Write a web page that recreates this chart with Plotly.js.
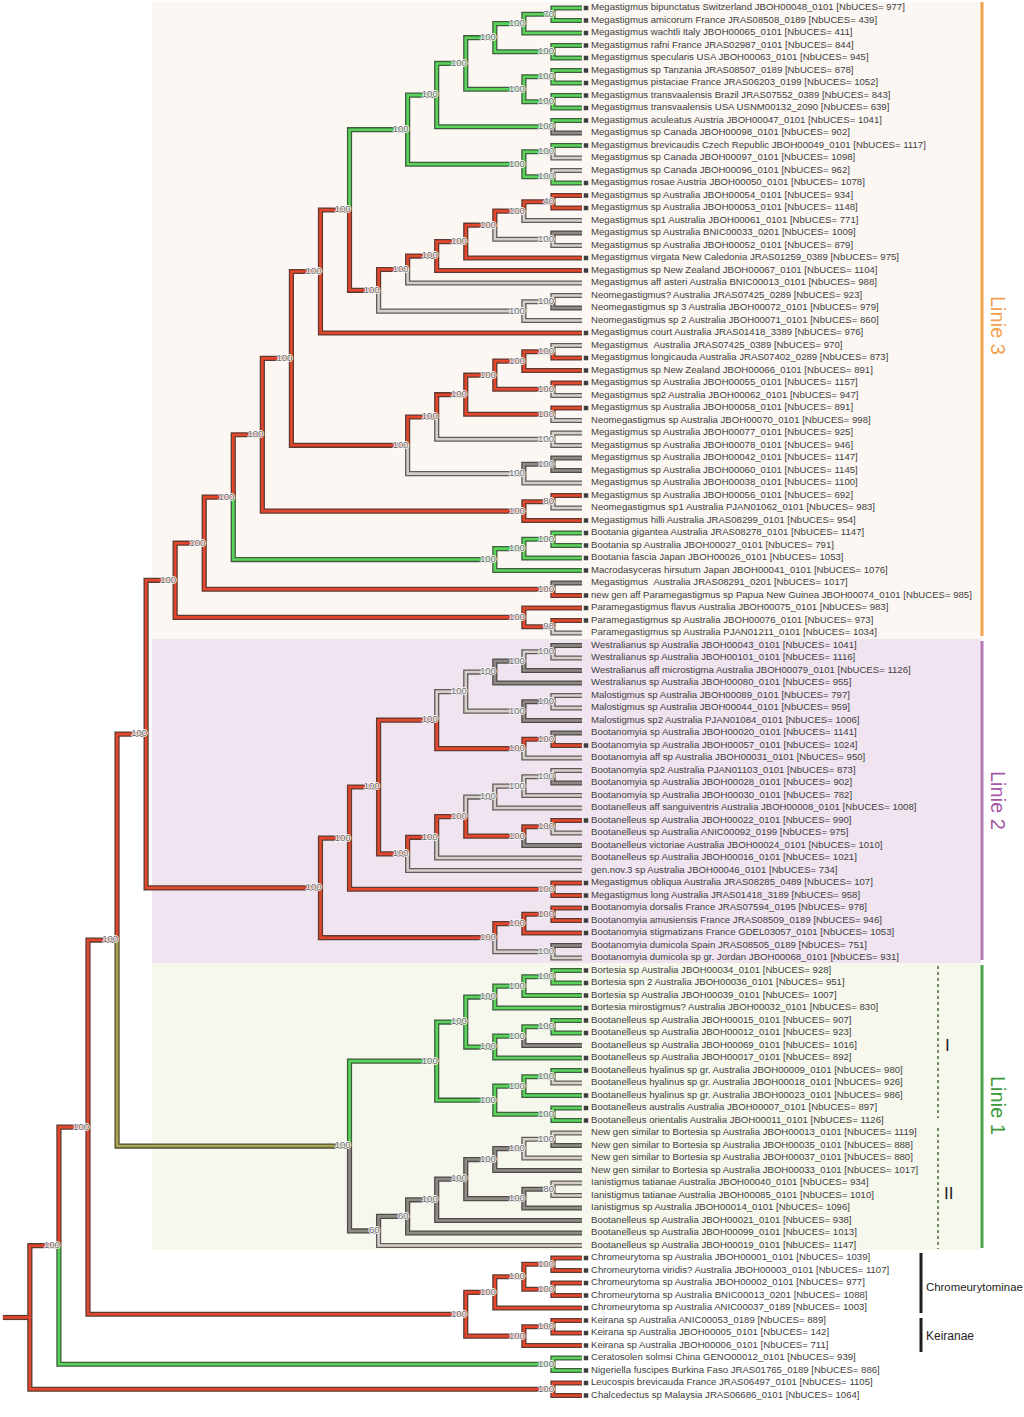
<!DOCTYPE html>
<html><head><meta charset="utf-8">
<script src="https://cdn.plot.ly/plotly-3.0.1.min.js"></script>
<style>html,body{margin:0;padding:0;background:#fff;overflow:hidden}#chart{width:1024px;height:1417px}</style>
</head><body><div id="chart"></div>
<script>
// ---------------- DATA ----------------
const leafNames = [
"Megastigmus bipunctatus Switzerland JBOH00048_0101","Megastigmus amicorum France JRAS08508_0189","Megastigmus wachtli Italy JBOH00065_0101",
"Megastigmus rafni France JRAS02987_0101","Megastigmus specularis USA JBOH00063_0101","Megastigmus sp Tanzania JRAS08507_0189",
"Megastigmus pistaciae France JRAS06203_0199","Megastigmus transvaalensis Brazil JRAS07552_0389","Megastigmus transvaalensis USA USNM00132_2090",
"Megastigmus aculeatus Austria JBOH00047_0101","Megastigmus sp Canada JBOH00098_0101","Megastigmus brevicaudis Czech Republic JBOH00049_0101",
"Megastigmus sp Canada JBOH00097_0101","Megastigmus sp Canada JBOH00096_0101","Megastigmus rosae Austria JBOH00050_0101",
"Megastigmus sp Australia JBOH00054_0101","Megastigmus sp Australia JBOH00053_0101","Megastigmus sp1 Australia JBOH00061_0101",
"Megastigmus sp Australia BNIC00033_0201","Megastigmus sp Australia JBOH00052_0101","Megastigmus virgata New Caledonia JRAS01259_0389",
"Megastigmus sp New Zealand JBOH00067_0101","Megastigmus aff asteri Australia BNIC00013_0101","Neomegastigmus? Australia JRAS07425_0289",
"Neomegastigmus sp 3 Australia JBOH00072_0101","Neomegastigmus sp 2 Australia JBOH00071_0101","Megastigmus court Australia JRAS01418_3389",
"Megastigmus \u00a0Australia JRAS07425_0389","Megastigmus longicauda Australia JRAS07402_0289","Megastigmus sp New Zealand JBOH00066_0101",
"Megastigmus sp Australia JBOH00055_0101","Megastigmus sp2 Australia JBOH00062_0101","Megastigmus sp Australia JBOH00058_0101",
"Neomegastigmus sp Australia JBOH00070_0101","Megastigmus sp Australia JBOH00077_0101","Megastigmus sp Australia JBOH00078_0101",
"Megastigmus sp Australia JBOH00042_0101","Megastigmus sp Australia JBOH00060_0101","Megastigmus sp Australia JBOH00038_0101",
"Megastigmus sp Australia JBOH00056_0101","Neomegastigmus sp1 Australia PJAN01062_0101","Megastigmus hilli Australia JRAS08299_0101",
"Bootania gigantea Australia JRAS08278_0101","Bootania sp Australia JBOH00027_0101","Bootania fascia Japan JBOH00026_0101",
"Macrodasyceras hirsutum Japan JBOH00041_0101","Megastigmus \u00a0Australia JRAS08291_0201","new gen aff Paramegastigmus sp Papua New Guinea JBOH00074_0101",
"Paramegastigmus flavus Australia JBOH00075_0101","Paramegastigmus sp Australia JBOH00076_0101","Paramegastigmus sp Australia PJAN01211_0101",
"Westralianus sp Australia JBOH00043_0101","Westralianus sp Australia JBOH00101_0101","Westralianus aff microstigma Australia JBOH00079_0101",
"Westralianus sp Australia JBOH00080_0101","Malostigmus sp Australia JBOH00089_0101","Malostigmus sp Australia JBOH00044_0101",
"Malostigmus sp2 Australia PJAN01084_0101","Bootanomyia sp Australia JBOH00020_0101","Bootanomyia sp Australia JBOH00057_0101",
"Bootanomyia aff sp Australia JBOH00031_0101","Bootanomyia sp2 Australia PJAN01103_0101","Bootanomyia sp Australia JBOH00028_0101",
"Bootanomyia sp Australia JBOH00030_0101","Bootanelleus aff sanguiventris Australia JBOH00008_0101","Bootanelleus sp Australia JBOH00022_0101",
"Bootanelleus sp Australia ANIC00092_0199","Bootanelleus victoriae Australia JBOH00024_0101","Bootanelleus sp Australia JBOH00016_0101",
"gen.nov.3 sp Australia JBOH00046_0101","Megastigmus obliqua Australia JRAS08285_0489","Megastigmus long Australia JRAS01418_3189",
"Bootanomyia dorsalis France JRAS07594_0195","Bootanomyia amusiensis France JRAS08509_0189","Bootanomyia stigmatizans France GDEL03057_0101",
"Bootanomyia dumicola Spain JRAS08505_0189","Bootanomyia dumicola sp gr. Jordan JBOH00068_0101",
"Bortesia sp Australia JBOH00034_0101","Bortesia spn 2 Australia JBOH00036_0101","Bortesia sp Australia JBOH00039_0101",
"Bortesia mirostigmus? Australia JBOH00032_0101","Bootanelleus sp Australia JBOH00015_0101","Bootanelleus sp Australia JBOH00012_0101",
"Bootanelleus sp Australia JBOH00069_0101","Bootanelleus sp Australia JBOH00017_0101","Bootanelleus hyalinus sp gr. Australia JBOH00009_0101",
"Bootanelleus hyalinus sp gr. Australia JBOH00018_0101","Bootanelleus hyalinus sp gr. Australia JBOH00023_0101","Bootanelleus australis Australia JBOH00007_0101",
"Bootanelleus orientalis Australia JBOH00011_0101","New gen similar to Bortesia sp Australia JBOH00013_0101","New gen similar to Bortesia sp Australia JBOH00035_0101",
"New gen similar to Bortesia sp Australia JBOH00037_0101","New gen similar to Bortesia sp Australia JBOH00033_0101","Ianistigmus tatianae Australia JBOH00040_0101",
"Ianistigmus tatianae Australia JBOH00085_0101","Ianistigmus sp Australia JBOH00014_0101","Bootanelleus sp Australia JBOH00021_0101",
"Bootanelleus sp Australia JBOH00099_0101","Bootanelleus sp Australia JBOH00019_0101",
"Chromeurytoma sp Australia JBOH00001_0101","Chromeurytoma viridis? Australia JBOH00003_0101","Chromeurytoma sp Australia JBOH00002_0101",
"Chromeurytoma sp Australia BNIC00013_0201","Chromeurytoma sp Australia ANIC00037_0189","Keirana sp Australia ANIC00053_0189",
"Keirana sp Australia JBOH00005_0101","Keirana sp Australia JBOH00006_0101","Ceratosolen solmsi China GENO00012_0101",
"Nigeriella fuscipes Burkina Faso JRAS01765_0189","Leucospis brevicauda France JRAS06497_0101","Chalcedectus sp Malaysia JRAS06686_0101"
];
const leafUCEs = [977,439,411,844,945,878,1052,843,639,1041,902,1117,1098,962,1078,
934,1148,771,1009,879,975,1104,988,923,979,860,976,
970,873,891,1157,947,891,998,925,946,1147,1145,1100,692,983,954,
1147,791,1053,1076,1017,985,983,973,1034,
1041,1116,1126,955,797,959,1006,1141,1024,950,873,902,782,1008,990,975,1010,1021,734,107,958,978,946,1053,751,931,
928,951,1007,830,907,923,1016,892,980,926,986,897,1126,1119,888,880,1017,934,1010,1096,938,1013,1147,
1039,1107,977,1088,1003,889,142,711,939,886,1105,1064];

// Tree topology (leaf numbers 1..112), support values after ")" and a branch-colour class letter
// r = red, g = green, w = light grey, d = dark grey, o = olive
const cladeMegaGreen = "((((((1g,2g)70g,3g)100g,(4g,5g)100g)100g,((6g,7g)100g,(8g,9g)100g)100g)100g,(10g,11d)100g)100g,((12g,13w)100g,(14w,15g)100g)100g)100g";
const cladeMegaAus1 = "(((((((16r,17r)40r,18w)100r,(19d,20w)100w)100r,21r)100r,22r)100r,23w)100r,((24w,25d)100w,26w)100w)100r";
const cladeMegaAus2 = "((((((28w,29r)100r,30r)100r,(31r,32w)100r)100r,(33r,34w)100r)100r,(35w,36w)100w)100r,((37d,38d)100d,39w)100w)100r";
const cladeL3a = "((40r,41w)80r,42r)100r";
const cladeBootania = "(((43g,44g)100g,45g)100g,46g)100g";
const cladeL3b = "(47d,48r)100r";
const cladePara = "(49r,(50r,51w)98r)100r";
const cladeL2a = "(((((52d,53w)100w,54d)100d,55d)100w,((56w,57w)100d,58d)100w)100w,((59d,60r)100r,61w)100r)100r";
const cladeL2b = "((((((62w,63d)100w,64w)100w,65w)100w,((66r,67w)100r,68d)100r)100r,69w)100r,70w)100r";
const cladeL2c = "(71r,72r)100r";
const cladeL2d = "(((73r,74r)100r,75r)100r,(76d,77w)100w)100r";
const cladeL1I = "(((((78g,79g)100g,80g)100g,81g)100g,(((82g,83g)100g,84d)100g,85g)100g)100g,(((86g,87w)100g,88g)100g,(89g,90g)100g)100g)100g";
const cladeL1II = "(((((((91w,92d)100w,93w)100d,94d)100d,((95w,96w)80d,97d)100d)100d,98d)100d,99d)60d,100w)60d";
const cladeChrom = "((((101r,102r)100r,(103r,104r)100r)100r,105r)100r,((106r,107r)100r,108r)100r)100r";
const cladeOut1 = "(109g,110g)100g";
const cladeOut2 = "(111r,112r)100r";

const linie3 = "(((((((" + cladeMegaGreen + "," + cladeMegaAus1 + ")100r,27r)100r," + cladeMegaAus2 + ")100r," + cladeL3a + ")100r," + cladeBootania + ")100r," + cladeL3b + ")100r," + cladePara + ")100r";
const linie2 = "(((" + cladeL2a + "," + cladeL2b + ")100r," + cladeL2c + ")100r," + cladeL2d + ")100r";
const linie1 = "(" + cladeL1I + "," + cladeL1II + ")100o";
const treeNewick = "(((((" + linie3 + "," + linie2 + ")100r," + linie1 + ")100r," + cladeChrom + ")100r," + cladeOut1 + ")100r," + cladeOut2 + ")r";

// ---------------- LAYOUT (cladogram) ----------------
const TIP_X = 582, LEVEL = 29.06, TOP = 8, ROW = 12.5;
const fillCol = {r:'#e4472b', g:'#5ad35a', w:'#d4cfca', d:'#8f8a86', o:'#a9a655'};
const edgeCol = {r:'#5e3a32', g:'#3d5d3d', w:'#605b57', d:'#4e4a47', o:'#4f4e2c'};

function parse(s){
  let i = 0;
  function node(){
    if (i >= s.length) throw new Error('unexpected end of tree');
    if (s[i] === '('){
      i++; const ch = [];
      while (true){
        ch.push(node());
        if (s[i] === ','){ i++; continue; }
        if (s[i] === ')'){ i++; break; }
        throw new Error('bad tree char at ' + i + ': ' + s[i]);
      }
      let sup = ''; while (i < s.length && /[0-9]/.test(s[i])) sup += s[i++];
      let col = 'r'; if (i < s.length && /[a-z]/.test(s[i])) col = s[i++];
      return {children: ch, support: sup, color: col};
    }
    let num = ''; while (i < s.length && /[0-9]/.test(s[i])) num += s[i++];
    if (!num) throw new Error('bad leaf at ' + i);
    const col = s[i++];
    return {leaf: +num, color: col};
  }
  return node();
}
const root = parse(treeNewick);
function place(n){
  if (n.leaf){ n.h = 0; n.yi = n.leaf - 1; }
  else { n.children.forEach(place); n.h = 1 + Math.max(...n.children.map(c => c.h));
         n.yi = (n.children[0].yi + n.children[n.children.length - 1].yi) / 2; }
  n.x = TIP_X - LEVEL * n.h; n.y = TOP + ROW * n.yi;
}
place(root);

const seg = {}; Object.keys(fillCol).forEach(k => seg[k] = {x: [], y: []});
const supX = [], supY = [], supT = [];
const tipX = [], tipY = [];
function walk(n){
  if (n.leaf){ if (n.color === 'r' || n.color === 'g'){ tipX.push(TIP_X + 4); tipY.push(n.y); } return; }
  if (n.support){ supX.push(n.x + 1); supY.push(n.y); supT.push(n.support); }
  n.children.forEach(c => {
    const s = seg[c.color];
    s.x.push(n.x, n.x, c.x, null); s.y.push(n.y, c.y, c.y, null);
    walk(c);
  });
}
walk(root);
seg[root.color].x.push(root.x - 27, root.x, null); seg[root.color].y.push(root.y, root.y, null);

const traces = [];
Object.keys(seg).forEach(k => traces.push({type:'scatter', mode:'lines', x: seg[k].x, y: seg[k].y, hoverinfo:'skip',
  line:{color: edgeCol[k], width: 5.2}, connectgaps:false}));
Object.keys(seg).forEach(k => traces.push({type:'scatter', mode:'lines', x: seg[k].x, y: seg[k].y, hoverinfo:'skip',
  line:{color: fillCol[k], width: 2.6}, connectgaps:false}));
traces.push({type:'scatter', mode:'text', x: supX, y: supY, text: supT, textposition:'middle left', hoverinfo:'skip',
  textfont:{family:'Liberation Sans, Arial, sans-serif', size:9.5, color:'#6a6a6a',
    shadow:'1px 0 0 #fff, -1px 0 0 #fff, 0 1px 0 #fff, 0 -1px 0 #fff'}});
traces.push({type:'scatter', mode:'markers', x: tipX, y: tipY, hoverinfo:'skip',
  marker:{symbol:'square', size:4.5, color:'#3e3e3e', line:{width:0}}});
traces.push({type:'scatter', mode:'text', x: leafNames.map(() => TIP_X + 9), y: leafNames.map((_, i) => TOP + ROW * i),
  text: leafNames.map((nm, i) => nm + ' [NbUCES= ' + leafUCEs[i] + ']'), textposition:'middle right', hoverinfo:'skip',
  textfont:{family:'Liberation Sans, Arial, sans-serif', size:9.6, color:'#404040'}});

const shapes = [
  {type:'rect', layer:'below', xref:'x', yref:'y', x0:152, x1:981, y0:2, y1:639, fillcolor:'#fcf7f3', line:{width:0}},
  {type:'rect', layer:'below', xref:'x', yref:'y', x0:152, x1:981, y0:639, y1:963, fillcolor:'#f0e4f0', line:{width:0}},
  {type:'rect', layer:'below', xref:'x', yref:'y', x0:152, x1:981, y0:963, y1:1250, fillcolor:'#f7f8ed', line:{width:0}},
  {type:'line', xref:'x', yref:'y', x0:982, x1:982, y0:2, y1:636, line:{color:'#f2a34c', width:3}},
  {type:'line', xref:'x', yref:'y', x0:982, x1:982, y0:641, y1:960, line:{color:'#b47ab6', width:3}},
  {type:'line', xref:'x', yref:'y', x0:982, x1:982, y0:965, y1:1248, line:{color:'#4aa64a', width:3}},
  {type:'line', xref:'x', yref:'y', x0:938, x1:938, y0:966, y1:1118, line:{color:'#4a6a3a', width:1.5, dash:'dot'}},
  {type:'line', xref:'x', yref:'y', x0:938, x1:938, y0:1128, y1:1249, line:{color:'#4a6a3a', width:1.5, dash:'dot'}},
  {type:'line', xref:'x', yref:'y', x0:921, x1:921, y0:1253, y1:1313, line:{color:'#1e1e1e', width:3}},
  {type:'line', xref:'x', yref:'y', x0:921, x1:921, y0:1318, y1:1352, line:{color:'#1e1e1e', width:3}}
];
const F = 'Liberation Sans, Arial, sans-serif';
const annotations = [
  {x:998, y:325, xref:'x', yref:'y', text:'Linie 3', showarrow:false, textangle:90, font:{family:F, size:20, color:'#f0a04e'}},
  {x:998, y:800, xref:'x', yref:'y', text:'Linie 2', showarrow:false, textangle:90, font:{family:F, size:20, color:'#a557a8'}},
  {x:998, y:1105, xref:'x', yref:'y', text:'Linie 1', showarrow:false, textangle:90, font:{family:F, size:20, color:'#3c9a3c'}},
  {x:947, y:1045, xref:'x', yref:'y', text:'I', showarrow:false, font:{family:F, size:17, color:'#222'}},
  {x:948, y:1193, xref:'x', yref:'y', text:'II', showarrow:false, font:{family:F, size:17, color:'#222'}},
  {x:924, y:1287, xref:'x', yref:'y', text:'Chromeurytominae', xanchor:'left', showarrow:false, font:{family:F, size:11.4, color:'#222'}},
  {x:924, y:1336, xref:'x', yref:'y', text:'Keiranae', xanchor:'left', showarrow:false, font:{family:F, size:12, color:'#222'}}
];

Plotly.newPlot('chart', traces, {
  width:1024, height:1417, margin:{l:0, r:0, t:0, b:0}, showlegend:false,
  paper_bgcolor:'#ffffff', plot_bgcolor:'rgba(0,0,0,0)',
  xaxis:{range:[0,1024], visible:false, fixedrange:true},
  yaxis:{range:[1417,0], visible:false, fixedrange:true},
  shapes: shapes, annotations: annotations
}, {staticPlot:true});
</script></body></html>
